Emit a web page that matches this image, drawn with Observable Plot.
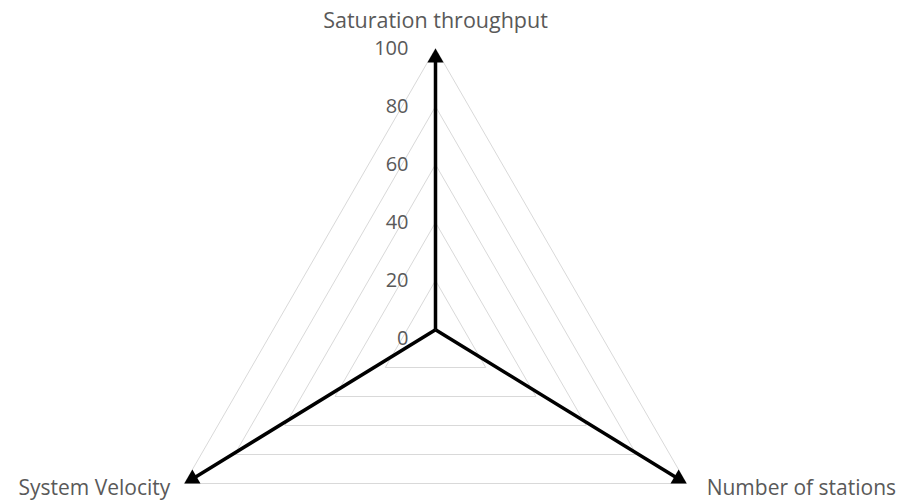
<!DOCTYPE html>
<html>
<head>
<meta charset="utf-8">
<script src="https://cdn.jsdelivr.net/npm/d3@7"></script>
<script src="https://cdn.jsdelivr.net/npm/@observablehq/plot@0.6"></script>
<style>
  html, body { margin: 0; padding: 0; background: #fff; }
  #chart svg { display: block; }
</style>
</head>
<body>
<div id="chart"></div>
<script>
// ---- data ----
const axisNames = ["Saturation throughput", "Number of stations", "System Velocity"];
const axisAngles = [0, 120, 240];          // degrees clockwise from up
const axisValues = [100, 100, 100];        // arrow length (value scale)
const gridLevels = [20, 40, 60, 80, 100];
const tickValues = [0, 20, 40, 60, 80, 100];
const hubValue = 3;                        // spokes meet slightly above the centre

// ---- geometry helpers ----
const rad = d => d * Math.PI / 180;
const px = (v, a) => v * Math.sin(rad(a));
const py = (v, a) => v * Math.cos(rad(a));

const gridPts = gridLevels.flatMap(l =>
  [...axisAngles, axisAngles[0]].map(a => ({level: l, x: px(l, a), y: py(l, a)})));

const hub = {x: px(hubValue, 0), y: py(hubValue, 0)};
const spokes = axisAngles.map((a, i) => {
  const v = axisValues[i];
  return {
    name: axisNames[i], angle: a,
    x1: hub.x, y1: hub.y,
    x2: px(v - 3.5, a), y2: py(v - 3.5, a),
    hx: px(v - 3.2, a), hy: py(v - 3.2, a),
    tx: px(v, a), ty: py(v, a)
  };
});

const labelOffsets = [
  {anchor: "middle", dx: 0, dy: -27, size: 21.5},
  {anchor: "start", dx: 20, dy: 5, size: 21},
  {anchor: "end", dx: -14, dy: 5, size: 21}
];
const labels = spokes.map((s, i) => ({...s, ...labelOffsets[i]}));

const cx = 435, cy = 338, R = 290;
const font = "'Open Sans', Lato, sans-serif";

const chart = Plot.plot({
  width: 902,
  height: 500,
  margin: 0,
  x: {domain: [-100, 100], range: [cx - R, cx + R], axis: null},
  y: {domain: [-100, 100], range: [cy + R, cy - R], axis: null},
  style: {fontFamily: font, background: "#fff", overflow: "visible"},
  marks: [
    Plot.line(gridPts, {x: "x", y: "y", z: "level", stroke: "#d9d9d9", strokeWidth: 1}),
    Plot.link(spokes, {x1: "x1", y1: "y1", x2: "x2", y2: "y2", stroke: "#000", strokeWidth: 3.5, strokeLinecap: "butt"}),
    Plot.dot(spokes, {x: "hx", y: "hy", symbol: "triangle", r: 6, fill: "#000", stroke: "none", rotate: "angle"}),
    Plot.text(tickValues, {x: 0, y: d => d, text: d => String(d), textAnchor: "end", dx: -27,
      fill: "#595959", fontSize: 20, fontFamily: font}),
    ...labels.map(l => Plot.text([l], {x: "tx", y: "ty", text: "name", textAnchor: l.anchor,
      dx: l.dx, dy: l.dy, fill: "#595959", fontSize: l.size, fontFamily: font}))
  ]
});

document.getElementById("chart").appendChild(chart);
</script>
</body>
</html>
